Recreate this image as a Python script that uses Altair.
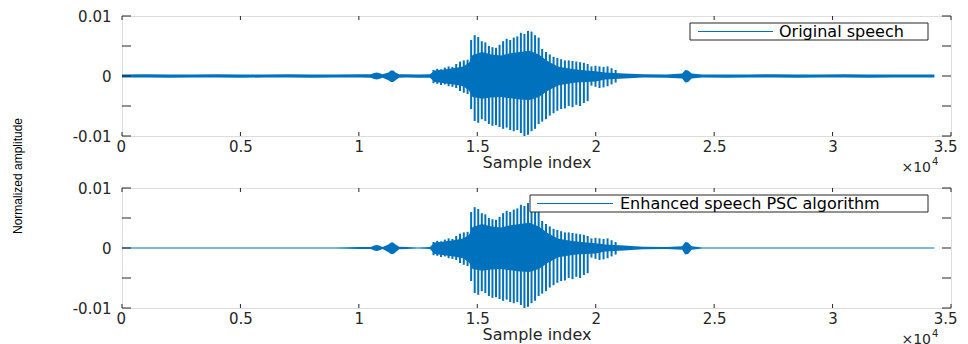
import altair as alt
import pandas as pd

# ---- data ----
series_names = ["Original speech", "Enhanced speech PSC algorithm"]
x_ticks = [0, 5000, 10000, 15000, 20000, 25000, 30000, 35000]
y_ticks = [-0.01, -0.005, 0, 0.005, 0.01]

# dense "core" envelope of the waveform (sample index, upper, lower)
env_x = [0, 1000, 2000, 3000, 4000, 5000, 6000, 7000, 8000, 9000, 10000, 10500,
         10650, 10750, 10850, 11000, 11250, 11350, 11450, 11550, 11700, 12000, 12500, 13000,
         13200, 13600, 14000, 14400, 14650, 14800, 15200, 15600, 16000, 16400, 16800, 17200,
         17600, 18000, 18400, 18800, 19200, 19600, 20000, 20400, 20800, 21200,
         22000, 23000, 23650, 23780, 23900, 24050, 24500, 25500, 26500, 27500, 28500,
         29500, 30500, 31500, 32500, 33500, 34300]
orig_hi = [0.00025, 0.0003, 0.00025, 0.00025, 0.0003, 0.00025, 0.00025, 0.0003, 0.00025, 0.00025,
           0.0003, 0.0003, 0.0005, 0.0006, 0.0005, 0.0003, 0.0006, 0.0009, 0.0009, 0.0006, 0.0003,
           0.0003, 0.00025, 0.0003,
           0.0009, 0.0011, 0.0013, 0.0016, 0.0022, 0.0035, 0.0040, 0.0036, 0.0034, 0.0038,
           0.0040, 0.0042, 0.0036, 0.0024, 0.0016, 0.0013, 0.0011, 0.0009, 0.0008, 0.0006,
           0.0005, 0.0004, 0.0003, 0.00025, 0.0004, 0.0010, 0.0009, 0.0004, 0.00025, 0.00025,
           0.00025, 0.0003, 0.00025, 0.00025, 0.0003, 0.00025, 0.00025, 0.00025, 0.00025]
orig_lo = [-0.00025, -0.00025, -0.0003, -0.00025, -0.00025, -0.0003, -0.00025, -0.00025, -0.0003,
           -0.00025, -0.00025, -0.0003, -0.0005, -0.0006, -0.0005, -0.0003, -0.0007, -0.0010,
           -0.0010, -0.0007, -0.0003, -0.00025, -0.0003, -0.0003,
           -0.0010, -0.0012, -0.0014, -0.0017, -0.0024, -0.0035, -0.0038, -0.0036, -0.0035, -0.0037,
           -0.0039, -0.0040, -0.0035, -0.0024, -0.0016, -0.0013, -0.0011, -0.0010, -0.0009, -0.0006,
           -0.0005, -0.0004, -0.00025, -0.0003, -0.0004, -0.0011, -0.0010, -0.0004, -0.00025,
           -0.0003, -0.00025, -0.00025, -0.0003, -0.00025, -0.00025, -0.0003, -0.00025, -0.00025,
           -0.00025]
enh_hi = [0.0001, 0.0001, 0.0001, 0.0001, 0.0001, 0.0001, 0.0001, 0.0001, 0.0001, 0.0001,
          0.00015, 0.00015, 0.0004, 0.0005, 0.0004, 0.00015, 0.0006, 0.0009, 0.0009, 0.0006, 0.0002,
          0.00015, 0.0001, 0.00015,
          0.0009, 0.0011, 0.0013, 0.0016, 0.0022, 0.0035, 0.0040, 0.0036, 0.0034, 0.0038,
          0.0040, 0.0042, 0.0036, 0.0024, 0.0016, 0.0013, 0.0011, 0.0009, 0.0008, 0.0006,
          0.0005, 0.0004, 0.0002, 0.00015, 0.0003, 0.0010, 0.0009, 0.0003, 0.0001, 0.0001,
          0.0001, 0.0001, 0.0001, 0.0001, 0.0001, 0.0001, 0.0001, 0.0001, 0.0001]
enh_lo = [-0.0001, -0.0001, -0.0001, -0.0001, -0.0001, -0.0001, -0.0001, -0.0001, -0.0001, -0.0001,
          -0.00015, -0.00015, -0.0004, -0.0005, -0.0004, -0.00015, -0.0007, -0.0010, -0.0010,
          -0.0007, -0.0002, -0.00015, -0.0001, -0.00015,
          -0.0010, -0.0012, -0.0014, -0.0017, -0.0024, -0.0035, -0.0038, -0.0036, -0.0035, -0.0037,
          -0.0039, -0.0040, -0.0035, -0.0024, -0.0016, -0.0013, -0.0011, -0.0010, -0.0009, -0.0006,
          -0.0005, -0.0004, -0.0002, -0.00015, -0.0003, -0.0011, -0.0010, -0.0003, -0.0001,
          -0.0001, -0.0001, -0.0001, -0.0001, -0.0001, -0.0001, -0.0001, -0.0001, -0.0001, -0.0001]

# individual pitch pulses in the voiced segment
spike_x = [13150, 13310, 13470, 13630, 13790, 13950, 14110, 14270, 14430, 14590,
           14740, 14890, 15040, 15190, 15340, 15490, 15640, 15790, 15940, 16090,
           16240, 16390, 16540, 16690, 16840, 16990, 17140, 17290, 17440, 17590,
           17740, 17900, 18060, 18220, 18380, 18540, 18700, 18860, 19020, 19180,
           19340, 19500, 19660, 19820, 19990, 20160, 20330, 20500, 20670, 20840]
spike_top = [0.0010, 0.0012, 0.0011, 0.0014, 0.0016, 0.0015, 0.0020, 0.0024, 0.0026, 0.0027,
             0.0060, 0.0068, 0.0065, 0.0058, 0.0056, 0.0050, 0.0048, 0.0047, 0.0052, 0.0058,
             0.0062, 0.0060, 0.0064, 0.0066, 0.0072, 0.0070, 0.0075, 0.0074, 0.0068, 0.0064,
             0.0045, 0.0040, 0.0036, 0.0032, 0.0030, 0.0028, 0.0026, 0.0026, 0.0025, 0.0024,
             0.0023, 0.0022, 0.0020, 0.0016, 0.0017, 0.0016, 0.0015, 0.0016, 0.0013, 0.0010]
spike_bot = [-0.0012, -0.0013, -0.0015, -0.0014, -0.0017, -0.0018, -0.0020, -0.0025, -0.0028, -0.0030,
             -0.0055, -0.0075, -0.0078, -0.0072, -0.0075, -0.0080, -0.0083, -0.0082, -0.0085, -0.0088,
             -0.0086, -0.0090, -0.0092, -0.0090, -0.0095, -0.0100, -0.0098, -0.0092, -0.0088, -0.0080,
             -0.0076, -0.0072, -0.0066, -0.0062, -0.0058, -0.0055, -0.0054, -0.0050, -0.0052, -0.0048,
             -0.0050, -0.0045, -0.0042, -0.0016, -0.0018, -0.0020, -0.0019, -0.0017, -0.0014, -0.0011]

# ---- styling ----
BLUE = "#0072BD"
AX = "#262626"
FONT = "DejaVu Sans"
W, H = 829, 120

xs = alt.Scale(domain=[0, 35000], nice=False, zero=False)
ys = alt.Scale(domain=[-0.01, 0.01], nice=False, zero=False)

one = pd.DataFrame({"a": [0]})
xt_df = pd.DataFrame({"x": x_ticks})
yt_df = pd.DataFrame({"y": y_ticks})


def panel(hi, lo, label, box_x0, line_x0, line_x1, text_x, ytitle):
    core_df = pd.DataFrame({"x": env_x, "hi": hi, "lo": lo})
    sp_df = pd.DataFrame({"x": spike_x, "top": spike_top, "bot": spike_bot})

    core = alt.Chart(core_df).mark_area(color=BLUE, opacity=1, interpolate="linear").encode(
        x=alt.X("x:Q", scale=xs, axis=alt.Axis(
            values=x_ticks, labelExpr="datum.value/10000 + ''", ticks=False, domain=False,
            grid=False, labelFlush=True, labelFlushOffset=6, labelFont=FONT, labelFontSize=15,
            labelColor=AX, labelPadding=3, title="Sample index", titleFont=FONT,
            titleFontSize=16, titleFontWeight="normal", titleColor=AX, titlePadding=0)),
        y=alt.Y("hi:Q", scale=ys, axis=alt.Axis(
            values=y_ticks, labelExpr="datum.value + ''", ticks=False, domain=False,
            grid=False, labelFlush=False, labelFont=FONT, labelFontSize=15, labelColor=AX,
            labelPadding=11, title=None)),
        y2="lo:Q",
    )
    spikes = alt.Chart(sp_df).mark_rule(color=BLUE, strokeWidth=2).encode(
        x="x:Q", y="top:Q", y2="bot:Q")

    xt_top = alt.Chart(xt_df).mark_rule(color=AX).encode(x="x:Q", y=alt.value(0), y2=alt.value(4))
    xt_bot = alt.Chart(xt_df).mark_rule(color=AX).encode(x="x:Q", y=alt.value(H - 4), y2=alt.value(H))
    yt_l = alt.Chart(yt_df).mark_rule(color=AX).encode(y="y:Q", x=alt.value(0), x2=alt.value(9))
    yt_r = alt.Chart(yt_df).mark_rule(color=AX).encode(y="y:Q", x=alt.value(W - 9), x2=alt.value(W))

    box = alt.Chart(one).mark_rect(fill="white", stroke=AX, strokeWidth=1).encode(
        x=alt.value(box_x0), x2=alt.value(806), y=alt.value(7), y2=alt.value(24))
    lline = alt.Chart(one).mark_rule(color=BLUE, strokeWidth=1).encode(
        x=alt.value(line_x0), x2=alt.value(line_x1), y=alt.value(15.5))
    ltext = alt.Chart(one).mark_text(align="left", baseline="middle", font=FONT, fontSize=16,
                                     color="black").encode(
        x=alt.value(text_x), y=alt.value(16), text=alt.value(label))

    exp10 = alt.Chart(one).mark_text(align="right", baseline="middle", font=FONT, fontSize=14,
                                     color=AX).encode(
        x=alt.value(809), y=alt.value(152), text=alt.value("×10"))
    exp4 = alt.Chart(one).mark_text(align="left", baseline="middle", font=FONT, fontSize=10,
                                    color=AX).encode(
        x=alt.value(810), y=alt.value(146), text=alt.value("4"))

    layers = [core, spikes, xt_top, xt_bot, yt_l, yt_r, box, lline, ltext, exp10, exp4]
    if ytitle:
        yt = alt.Chart(one).mark_text(angle=270, baseline="middle", align="center",
                                      font="Liberation Sans", fontSize=12,
                                      color="black").encode(
            x=alt.value(-104), y=alt.value(160), text=alt.value("Normalized amplitude"))
        layers.append(yt)
    return alt.layer(*layers).properties(width=W, height=H)


top = panel(orig_hi, orig_lo, series_names[0], 568, 576, 651, 657, True)
bottom = panel(enh_hi, enh_lo, series_names[1], 408, 415, 491, 498, False)

chart = alt.vconcat(top, bottom, spacing=52, bounds="flush").properties(
    padding={"left": 3, "top": 0, "right": 1, "bottom": 0}
).configure_view(stroke=AX, strokeWidth=1).configure(background="white")

chart.save("out.html", embed_options={"renderer": "svg", "actions": False})
